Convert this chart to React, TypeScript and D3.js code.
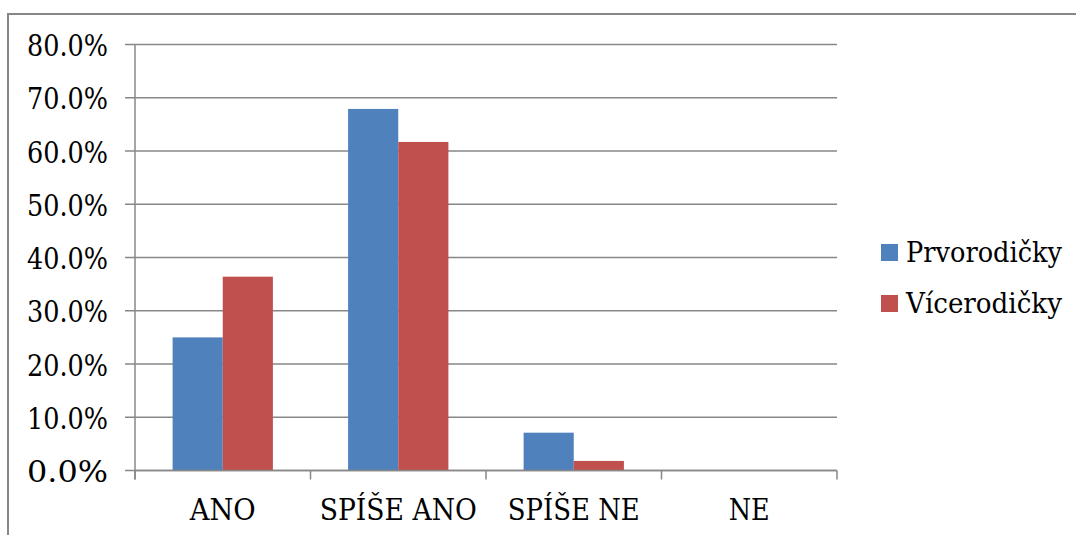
import React from "react";
import * as d3 from "d3";

const categories = ["ANO", "SPÍŠE ANO", "SPÍŠE NE", "NE"];
const seriesNames = ["Prvorodičky", "Vícerodičky"];
const prvorodicky = [25.0, 67.9, 7.1, 0];
const vicerodicky = [36.4, 61.7, 1.8, 0];
const yTicks = [0, 10, 20, 30, 40, 50, 60, 70, 80];
const seriesColors = ["#4F81BD", "#C0504D"];

// rendered widths of the labels, so the wide serif face keeps a Times-like run
const tickLabelWidth = 81;
const categoryLabelWidths = [66, 157, 132, 41];
const legendLabelWidths = [156, 156];

const W = 1076;
const H = 535;
const plot = { left: 135, right: 837, top: 44.5, bottom: 470.5 };
const FONT = "'DejaVu Serif', serif";
const GRID = "#878787";

const textStyle: React.CSSProperties = { fontFamily: FONT, fontSize: "30px" };
const legendStyle: React.CSSProperties = { fontFamily: FONT, fontSize: "27.5px" };

export default function App() {
  const x0 = d3.scaleBand<string>().domain(categories).range([plot.left, plot.right]).padding(0);
  const x1 = d3
    .scaleBand<string>()
    .domain(seriesNames)
    .range([0, x0.bandwidth()])
    .paddingInner(0)
    .paddingOuter(0.75);
  const y = d3.scaleLinear().domain([0, 80]).range([plot.bottom, plot.top]);
  const values = [prvorodicky, vicerodicky];
  const fmt = (v: number) => d3.format(".1f")(v) + "%";

  const boundaries = categories.map((c) => x0(c)!).concat([plot.right]);

  return (
    <svg
      width={W}
      height={H}
      style={{ position: "absolute", left: 0, top: 0, background: "#fff" }}
    >
      <rect x={0} y={0} width={W} height={H} fill="#fff" />
      {/* chart frame */}
      <rect x={8} y={14} width={W + 20} height={H + 20} fill="none" stroke={GRID} strokeWidth={2} />

      {/* gridlines, extended left as tick marks */}
      {yTicks.map((t) => (
        <line key={t} x1={plot.left - 10} x2={plot.right} y1={y(t)} y2={y(t)} stroke={GRID} strokeWidth={1.5} />
      ))}

      {/* clustered bars */}
      {categories.map((c, ci) =>
        seriesNames.map((s, si) => {
          const v = values[si][ci];
          if (v <= 0) return null;
          return (
            <rect
              key={c + s}
              x={x0(c)! + x1(s)!}
              y={y(v)}
              width={x1.bandwidth()}
              height={y(0) - y(v)}
              fill={seriesColors[si]}
            />
          );
        })
      )}

      {/* axes */}
      <line x1={plot.left} x2={plot.left} y1={plot.top} y2={plot.bottom + 9} stroke={GRID} strokeWidth={1.5} />
      <line x1={plot.left} x2={plot.right} y1={plot.bottom} y2={plot.bottom} stroke={GRID} strokeWidth={1.5} />
      {boundaries.map((bx, i) => (
        <line key={i} x1={bx} x2={bx} y1={plot.bottom} y2={plot.bottom + 9} stroke={GRID} strokeWidth={1.5} />
      ))}

      {/* y tick labels */}
      {yTicks.map((t) => (
        <text
          key={t}
          x={108}
          y={y(t) + 11.5}
          textAnchor="end"
          textLength={tickLabelWidth}
          lengthAdjust="spacingAndGlyphs"
          style={textStyle}
          fill="#000"
        >
          {fmt(t)}
        </text>
      ))}

      {/* category labels */}
      {categories.map((c, i) => (
        <text
          key={c}
          x={x0(c)! + x0.bandwidth() / 2}
          y={520}
          textAnchor="middle"
          textLength={categoryLabelWidths[i]}
          lengthAdjust="spacingAndGlyphs"
          style={textStyle}
          fill="#000"
        >
          {c}
        </text>
      ))}

      {/* legend */}
      {seriesNames.map((s, i) => (
        <g key={s} transform={`translate(881, ${244 + i * 51})`}>
          <rect x={0} y={0} width={17} height={17} fill={seriesColors[i]} />
          <text
            x={25}
            y={17.7}
            textLength={legendLabelWidths[i]}
            lengthAdjust="spacingAndGlyphs"
            style={legendStyle}
            fill="#000"
          >
            {s}
          </text>
        </g>
      ))}
    </svg>
  );
}
